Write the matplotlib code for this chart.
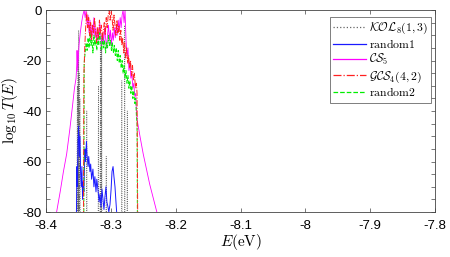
import numpy as np
import matplotlib
matplotlib.use("Agg")
import matplotlib.pyplot as plt
from matplotlib.ticker import MultipleLocator

plt.rcParams['mathtext.fontset'] = 'cm'
plt.rcParams['font.family'] = ['Liberation Sans', 'DejaVu Sans']

# ---- data (E in eV, log10 T) ----
kol_E = [-8.3525, -8.3515, -8.351, -8.3505, -8.350, -8.3495, -8.349, -8.3485, -8.348, -8.3475, -8.347,
         -8.3375, -8.337, -8.3365,
         -8.3195, -8.319, -8.3185, -8.318,
         -8.3165, -8.316, -8.3155, -8.315, -8.3145, -8.314, -8.3135, -8.313,
         -8.3075, -8.307, -8.3065,
         -8.2835, -8.283, -8.2825,
         -8.279, -8.2785, -8.278,
         -8.275, -8.2745, -8.274]
kol_T = [-85, -30, -85, -20, -85, -8, -85, -25, -85, -35, -85,
         -85, -40, -85,
         -85, -30, -85, -85,
         -85, -15, -85, -12, -85, -10, -85, -85,
         -85, -58, -85,
         -85, -28, -85,
         -85, -6, -85,
         -85, -40, -85]

r1_E = [-8.3530, -8.3522, -8.3515, -8.3505, -8.3495, -8.3485, -8.3475, -8.3465, -8.3455, -8.3445,
        -8.3435, -8.3425, -8.3415, -8.3405, -8.3398, -8.339, -8.3375, -8.3367, -8.335, -8.334,
        -8.3321, -8.331, -8.3295, -8.3275, -8.326, -8.3245, -8.3228, -8.3215, -8.3198, -8.318,
        -8.3167, -8.315, -8.3136, -8.312, -8.3105, -8.309, -8.3074, -8.306, -8.3043, -8.303,
        -8.3012, -8.2995, -8.2981, -8.2965, -8.2951, -8.2935, -8.292, -8.2904]
r1_T = [-82, -62, -70, -52, -46, -58, -50, -64, -70, -62,
        -75, -68, -72, -62, -55, -60, -52, -57, -62, -58,
        -64, -61, -67, -63, -70, -66, -72, -67, -71, -76,
        -73, -78, -71, -75, -79, -74, -70, -76, -78, -80,
        -77, -71, -64, -62, -66, -70, -76, -82]

cs_E = [-8.3835, -8.378, -8.373, -8.368, -8.363, -8.359, -8.356, -8.3535, -8.3525, -8.352,
        -8.351, -8.349, -8.347, -8.345, -8.343, -8.341, -8.3395, -8.338, -8.3365, -8.335,
        -8.3335, -8.332, -8.3305, -8.329, -8.3275, -8.326, -8.3245, -8.323, -8.3215, -8.320,
        -8.3185, -8.317, -8.3155, -8.314, -8.3125, -8.311, -8.3095, -8.308, -8.3065, -8.305,
        -8.3035, -8.302, -8.3005, -8.299, -8.2975, -8.296, -8.2945, -8.293, -8.2915, -8.290,
        -8.2885, -8.287, -8.2855, -8.284, -8.2825, -8.281, -8.2795, -8.278, -8.2765, -8.275,
        -8.2735, -8.272, -8.2705, -8.269, -8.2675, -8.266, -8.2645, -8.263, -8.2615, -8.2605,
        -8.259, -8.255, -8.250, -8.245, -8.240, -8.235, -8.229]
cs_T = [-80, -72, -64, -57, -47, -38, -31, -27, -22, -16,
        -24, -14, -9, -5, -2, 0, -3, 0, -6, -2,
        -9, -4, -12, -6, -10, -3, -11, -7, -13, -8,
        -12, -5, -10, -14, -9, -13, -7, -11, -15, -10,
        -6, -12, -8, -14, -9, -12, -7, -11, -6, -10,
        -4, -8, -3, -7, -2, 0, -5, 0, -12, -18,
        -15, -24, -21, -27, -25, -31, -29, -34, -33, -40,
        -44, -50, -57, -63, -69, -74, -80]

gcs_E = [-8.342, -8.3415, -8.340, -8.3385, -8.337, -8.3355, -8.334, -8.3325, -8.331, -8.3295,
         -8.328, -8.3265, -8.325, -8.3235, -8.322, -8.3205, -8.319, -8.3175, -8.316, -8.3145,
         -8.313, -8.3115, -8.310, -8.3085, -8.307, -8.3055, -8.304, -8.3025, -8.301, -8.2995,
         -8.298, -8.2965, -8.295, -8.2935, -8.292, -8.2905, -8.289, -8.2875, -8.286, -8.2845,
         -8.283, -8.2815, -8.280, -8.2785, -8.277, -8.2755, -8.274, -8.2725, -8.271, -8.2695,
         -8.268, -8.2665, -8.265, -8.2635, -8.262, -8.2605, -8.2595, -8.2585]
gcs_T = [-82, -26, -14, -6, -1, -7, -3, -10, -5, -12,
         -6, -9, -3, -8, -13, -7, -11, -4, -9, -6,
         -12, -8, -5, -10, -3, -7, -2, 0, -4, 0,
         -3, -8, -2, -6, -10, -4, -9, -6, -12, -8,
         -14, -11, -17, -13, -19, -15, -21, -18, -23, -20,
         -26, -22, -28, -25, -31, -29, -33, -82]

r2_E = [-8.3415, -8.341, -8.3395, -8.338, -8.3365, -8.335, -8.3335, -8.332, -8.3305, -8.329,
        -8.3275, -8.326, -8.3245, -8.323, -8.3215, -8.320, -8.3185, -8.317, -8.3155, -8.314,
        -8.3125, -8.311, -8.3095, -8.308, -8.3065, -8.305, -8.3035, -8.302, -8.3005, -8.299,
        -8.2975, -8.296, -8.2945, -8.293, -8.2915, -8.290, -8.2885, -8.287, -8.2855, -8.284,
        -8.2825, -8.281, -8.2795, -8.278, -8.2765, -8.275, -8.2735, -8.272, -8.2705, -8.269,
        -8.2675, -8.266, -8.2645, -8.263, -8.2615, -8.2605, -8.2595, -8.259]
r2_T = [-82, -21, -17, -13, -16, -11, -15, -9, -14, -12,
        -17, -10, -14, -12, -16, -11, -14, -9, -13, -16,
        -11, -15, -12, -17, -13, -15, -10, -14, -12, -16,
        -13, -17, -14, -18, -15, -20, -16, -21, -18, -23,
        -20, -25, -22, -27, -24, -29, -26, -31, -28, -33,
        -30, -35, -32, -37, -35, -42, -45, -82]

labels = [r'$\mathcal{KOL}_8(1,3)$', r'$\mathrm{random1}$', r'$\mathcal{CS}_5$',
          r'$\mathcal{GCS}_4(4,2)$', r'$\mathrm{random2}$']
xticks = [-8.4, -8.3, -8.2, -8.1, -8.0, -7.9, -7.8]
xticklabels = ['-8.4', '-8.3', '-8.2', '-8.1', '-8', '-7.9', '-7.8']
yticks = [0, -20, -40, -60, -80]
yticklabels = ['0', '-20', '-40', '-60', '-80']

fig = plt.figure(figsize=(4.5, 2.57), dpi=100)
ax = fig.add_axes([0.102, 0.175, 0.865, 0.786])

ax.plot(kol_E, kol_T, color='#666666', linestyle=':', linewidth=0.6, label=labels[0])
ax.plot(r1_E, r1_T, color='#1a1aff', linestyle='-', linewidth=0.7, label=labels[1])
ax.plot(cs_E, cs_T, color='#ff00ff', linestyle='-', linewidth=0.6, label=labels[2])
ax.plot(r2_E, r2_T, color='#00ee00', linestyle='--', linewidth=0.7, label=labels[4])
ax.plot(gcs_E, gcs_T, color='#ff2020', linestyle='-.', linewidth=0.7, label=labels[3])

ax.set_xlim(-8.4, -7.8)
ax.set_ylim(-80, 0)
ax.set_xticks(xticks)
ax.set_xticklabels(xticklabels)
ax.set_yticks(yticks)
ax.set_yticklabels(yticklabels)
ax.yaxis.set_minor_locator(MultipleLocator(5))
ax.tick_params(which='both', direction='in', top=True, right=True, length=3,
               width=0.5, color='#444444', labelsize=9.5)
ax.tick_params(axis='x', pad=6)
ax.tick_params(axis='y', pad=3)
for s in ax.spines.values():
    s.set_linewidth(0.6)
    s.set_color('#444444')

ax.set_xlabel(r'$E(\mathrm{eV})$', fontsize=11, labelpad=0)
ax.set_ylabel(r'$\log_{10}T(E)$', fontsize=11, labelpad=2)

h, l = ax.get_legend_handles_labels()
order = [0, 1, 2, 4, 3]
leg = ax.legend([h[i] for i in order], [l[i] for i in order],
                loc='upper right', bbox_to_anchor=(0.99, 0.965), fontsize=8.5,
                frameon=True, fancybox=False, edgecolor='#444444', handlelength=2.8,
                handletextpad=0.2, borderpad=0.3, labelspacing=0.15, borderaxespad=0)
leg.get_frame().set_linewidth(0.6)
for line in leg.get_lines():
    line.set_linewidth(0.9)

fig.savefig('out.png', dpi=100)
